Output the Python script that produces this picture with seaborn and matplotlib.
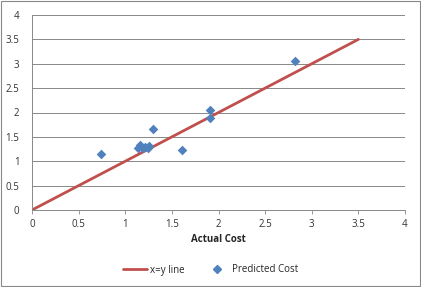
import numpy as np
import pandas as pd
import matplotlib.pyplot as plt
import seaborn as sns
from matplotlib.lines import Line2D

sns.set_style("white")
plt.rcParams['font.family'] = ['Open Sans', 'DejaVu Sans']

actual = [0.74, 1.14, 1.16, 1.19, 1.21, 1.24, 1.26, 1.30, 1.61, 1.91, 1.91, 2.82]
predicted = [1.14, 1.28, 1.33, 1.27, 1.30, 1.28, 1.32, 1.66, 1.24, 2.06, 1.88, 3.06]
line_x = [0, 3.5]
line_y = [0, 3.5]

data = pd.DataFrame({"Actual Cost": actual, "Predicted Cost": predicted})
line = pd.DataFrame({"x": line_x, "y": line_y})

fig = plt.figure(figsize=(4.21, 2.87), dpi=100)
ax = fig.add_axes([32 / 421, 1 - 210 / 287, 373 / 421, 195 / 287])

sns.lineplot(data=line, x="x", y="y", color="#c0504d", linewidth=2, ax=ax)
sns.scatterplot(data=data, x="Actual Cost", y="Predicted Cost", marker="D",
                color="#4f81bd", s=24, edgecolor="#4f81bd", linewidth=0, ax=ax, zorder=3)

ax.set_xlim(0, 4)
ax.set_ylim(0, 4)
ax.set_xticks(np.arange(0, 4.01, 0.5))
ax.set_yticks(np.arange(0, 4.01, 0.5))
ax.set_xticklabels(["0", "0.5", "1", "1.5", "2", "2.5", "3", "3.5", "4"])
ax.set_yticklabels(["0", "0.5", "1", "1.5", "2", "2.5", "3", "3.5", "4"])
ax.tick_params(labelsize=7, colors="#333333", length=3, width=0.6)
ax.tick_params(axis="x", direction="out", bottom=True, color="#888888")
ax.tick_params(axis="y", left=False, pad=6)
ax.grid(axis="y", color="#888888", linewidth=0.7)
ax.grid(axis="x", visible=False)
for side in ["top", "right"]:
    ax.spines[side].set_visible(False)
for side in ["left", "bottom"]:
    ax.spines[side].set_color("#888888")
    ax.spines[side].set_linewidth(0.7)
ax.set_xlabel("Actual Cost", fontsize=7, fontweight="bold", labelpad=3)
ax.set_ylabel("")

handles = [Line2D([0], [0], color="#c0504d", linewidth=2),
           Line2D([0], [0], marker="D", color="#4f81bd", linestyle="none", markersize=4)]
fig.legend(handles, ["x=y line", "Predicted Cost"], loc="center", bbox_to_anchor=(0.5, 1 - 270 / 287),
           ncol=2, frameon=False, fontsize=7, handlelength=2.5, columnspacing=2, handletextpad=0.3)

fig.patches.append(plt.Rectangle((0.002, 0.003), 0.996, 0.994, transform=fig.transFigure,
                                 fill=False, edgecolor="#888888", linewidth=0.8))

fig.savefig("out.png", dpi=100)
